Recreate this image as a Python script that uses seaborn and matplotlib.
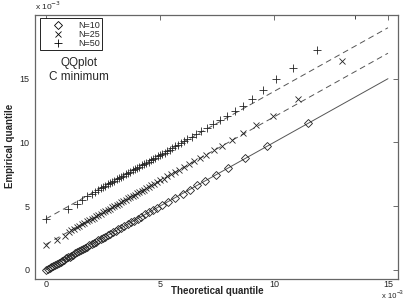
import matplotlib
matplotlib.use("Agg")
import matplotlib.pyplot as plt
import seaborn as sns
from matplotlib.lines import Line2D

# ---- data (values in units of 1e-3) ----
n10_theo = [0.0, 0.08, 0.16, 0.24, 0.32, 0.4, 0.48, 0.56, 0.64, 0.72, 0.8, 0.88, 0.96, 1.04, 1.12,
            1.2, 1.28, 1.36, 1.45, 1.54, 1.63, 1.72, 1.81, 1.9, 2.0, 2.1, 2.2, 2.3, 2.4, 2.5,
            2.6, 2.71, 2.82, 2.94, 3.06, 3.18, 3.31, 3.44, 3.58, 3.72, 3.87, 4.02, 4.18, 4.34, 4.51,
            4.69, 4.88, 5.1, 5.35, 5.66, 6.0, 6.3, 6.62, 6.98, 7.45, 8.0, 8.75, 9.7, 11.5]
n10_emp = [0.02, 0.09, 0.16, 0.23, 0.31, 0.4, 0.49, 0.57, 0.64, 0.71, 0.8, 0.89, 0.97, 1.04, 1.11,
           1.2, 1.29, 1.37, 1.45, 1.53, 1.62, 1.72, 1.82, 1.91, 2.0, 2.09, 2.2, 2.31, 2.41, 2.5,
           2.59, 2.7, 2.82, 2.95, 3.07, 3.18, 3.3, 3.44, 3.59, 3.73, 3.87, 4.01, 4.18, 4.35, 4.52,
           4.69, 4.87, 5.1, 5.36, 5.67, 5.99, 6.3, 6.63, 6.99, 7.44, 8.02, 8.76, 9.71, 11.52]

n25_theo = [0.0, 0.47, 0.83, 1.0, 1.12, 1.24, 1.35, 1.46, 1.57, 1.68, 1.79, 1.9, 2.0, 2.1, 2.2,
            2.3, 2.4, 2.5, 2.6, 2.7, 2.8, 2.9, 3.0, 3.1, 3.2, 3.3, 3.4, 3.5, 3.6, 3.7,
            3.8, 3.9, 4.0, 4.1, 4.2, 4.3, 4.4, 4.5, 4.62, 4.75, 4.88, 5.02, 5.16, 5.32, 5.48,
            5.66, 5.84, 6.04, 6.26, 6.49, 6.75, 7.0, 7.37, 7.7, 8.15, 8.65, 9.2, 9.96, 11.05, 13.0]
n25_emp = [1.96, 2.35, 2.62, 2.95, 3.1, 3.23, 3.34, 3.46, 3.57, 3.68, 3.8, 3.9, 4.0, 4.1, 4.21,
           4.3, 4.4, 4.51, 4.6, 4.7, 4.8, 4.91, 5.0, 5.1, 5.2, 5.31, 5.4, 5.5, 5.6, 5.71,
           5.8, 5.9, 6.0, 6.1, 6.21, 6.3, 6.4, 6.51, 6.62, 6.75, 6.88, 7.03, 7.16, 7.33, 7.49,
           7.67, 7.85, 8.06, 8.28, 8.52, 8.78, 9.05, 9.4, 9.75, 10.22, 10.7, 11.38, 12.1, 13.4, 16.4]

n50_theo = [0.0, 0.98, 1.35, 1.56, 1.81, 2.0, 2.15, 2.28, 2.4, 2.5, 2.6, 2.7, 2.8, 2.9, 3.0,
            3.1, 3.2, 3.3, 3.4, 3.5, 3.6, 3.7, 3.8, 3.9, 4.0, 4.1, 4.2, 4.3, 4.4, 4.5,
            4.6, 4.7, 4.8, 4.9, 5.0, 5.1, 5.2, 5.31, 5.42, 5.54, 5.66, 5.79, 5.92, 6.05, 6.2,
            6.4, 6.6, 6.82, 7.05, 7.34, 7.63, 7.93, 8.27, 8.65, 9.05, 9.5, 10.1, 10.83, 11.9, 13.55]
n50_emp = [4.0, 4.75, 5.2, 5.5, 5.78, 5.98, 6.13, 6.27, 6.39, 6.5, 6.6, 6.7, 6.8, 6.9, 7.0,
           7.1, 7.2, 7.3, 7.4, 7.5, 7.6, 7.7, 7.8, 7.9, 8.0, 8.1, 8.2, 8.3, 8.4, 8.5,
           8.6, 8.7, 8.8, 8.9, 9.0, 9.1, 9.2, 9.31, 9.43, 9.55, 9.68, 9.81, 9.95, 10.1, 10.26,
           10.45, 10.65, 10.87, 11.12, 11.42, 11.73, 12.05, 12.46, 12.85, 13.4, 14.15, 14.95, 15.85, 17.25, 20.0]

ref_x = [0, 15]
ref10_y = [0, 15]
ref25_y = [2, 17]
ref50_y = [4, 19]

series_labels = ["N=10", "N=25", "N=50"]
x_ticks = [0, 5, 10, 15]
y_ticks = [0, 5, 10, 15]

# ---- style ----
sns.set_style("white")
plt.rcParams['font.family'] = ['Liberation Sans', 'DejaVu Sans']

W, H = 407, 300
fig = plt.figure(figsize=(W / 100, H / 100), dpi=100)
ax = fig.add_axes([35 / W, 21 / H, 363 / W, 264 / H])

line_col = '#555555'
sns.lineplot(x=ref_x, y=ref10_y, ax=ax, color=line_col, lw=0.7, linestyle='-')
sns.lineplot(x=ref_x, y=ref25_y, ax=ax, color=line_col, lw=0.7, linestyle=(0, (6, 4)))
sns.lineplot(x=ref_x, y=ref50_y, ax=ax, color=line_col, lw=0.7, linestyle=(0, (6, 4)))

mk = dict(ax=ax, sort=False, estimator=None, linestyle='', color='black')
sns.lineplot(x=n10_theo, y=n10_emp, marker='D', markersize=4, mfc='none', mec='#222222', mew=0.6, **mk)
sns.lineplot(x=n25_theo, y=n25_emp, marker='x', markersize=4.5, mec='#222222', mew=0.6, **mk)
sns.lineplot(x=n50_theo, y=n50_emp, marker='+', markersize=5.5, mec='#222222', mew=0.6, **mk)

ax.set_xlim(-0.48, 15.44)
ax.set_ylim(-0.72, 20.0)
ax.set_xticks(x_ticks)
ax.set_yticks(y_ticks)
ax.set_xticklabels([str(t) for t in x_ticks])
ax.set_yticklabels([str(t) for t in y_ticks])
ax.tick_params(direction='in', top=True, right=True, length=3.5, width=0.6,
               color='#555555', labelsize=6.5)
ax.tick_params(axis='x', pad=1.0)
ax.tick_params(axis='y', pad=4)
for s in ax.spines.values():
    s.set_visible(True)
    s.set_color('#666666')
    s.set_linewidth(0.9)

ax.set_xlabel('')
ax.set_ylabel('')
fig.text(217 / W, 1 - 291 / H, 'Theoretical quantile', ha='center', va='center',
         fontsize=7, fontweight='bold')
fig.text(10 / W, 1 - 146 / H, 'Empirical quantile', ha='center', va='center',
         rotation=90, fontsize=7, fontweight='bold')
fig.text(35 / W, 1 - 6 / H, r'x 10$^{-3}$', ha='left', va='center', fontsize=6)
# bottom-right exponent, split so it clears the "15" tick label
fig.text(396 / W, 1 - 300 / H, 'x 10', ha='right', va='bottom', fontsize=5.5)
fig.text(396.5 / W, 1 - 295 / H, '\u22123', ha='left', va='bottom', fontsize=4.2)

ax.text(1.45, 16.2, 'QQplot', ha='center', va='center', fontsize=8.5)
ax.text(1.45, 15.15, 'C minimum', ha='center', va='center', fontsize=8.5)

handles = [
    Line2D([], [], linestyle='', marker='D', markersize=4, mfc='none', mec='black', mew=0.6),
    Line2D([], [], linestyle='', marker='x', markersize=4.5, mec='black', mew=0.6),
    Line2D([], [], linestyle='', marker='+', markersize=5.5, mec='black', mew=0.6),
]
leg = ax.legend(handles, series_labels, loc='upper left', bbox_to_anchor=(5 / 363, 1 - 3 / 264),
                borderaxespad=0, fontsize=6.5, frameon=True, fancybox=False, edgecolor='black',
                framealpha=1, borderpad=0.3, handlelength=3.4, handletextpad=0.5,
                labelspacing=0.0)
leg.get_frame().set_linewidth(0.6)

fig.savefig('out.png', dpi=100)
